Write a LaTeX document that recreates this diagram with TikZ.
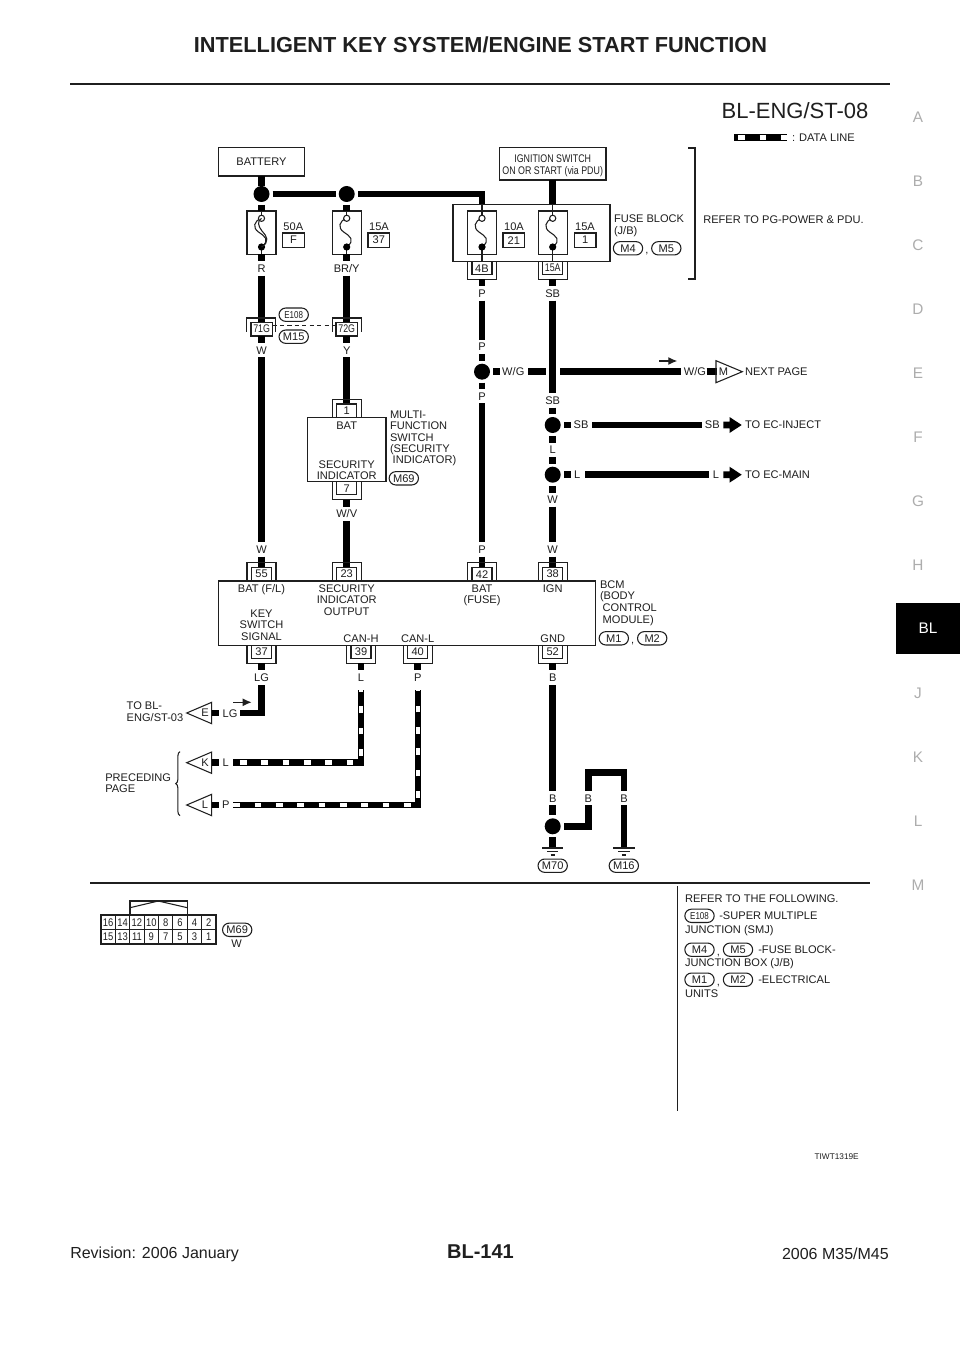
\documentclass[tikz,border=0pt]{standalone}
\usepackage{fontspec}
\usepackage{graphicx}
\setmainfont{Liberation Sans}
\usetikzlibrary{shapes.misc,arrows.meta,decorations.pathreplacing}
\definecolor{ink}{gray}{0.12}
\definecolor{side}{gray}{0.68}
\tikzset{
  txt/.style={inner sep=0pt,outer sep=0pt,text=ink,font=\fontsize{8.3}{9}\selectfont,text height=5.9pt,text depth=0pt},
  wire/.style={line width=5.2pt,draw=black,line cap=butt},
  thinl/.style={line width=0.8pt,draw=ink},
  boxl/.style={draw=ink,line width=0.8pt,inner sep=0pt,outer sep=0pt,fill=white},
  ovalb/.style={rounded rectangle,draw=ink,line width=0.8pt,inner sep=0pt,minimum width=22pt,minimum height=10pt,text=ink,font=\fontsize{8.3}{9}\selectfont},
  dot/.style={circle,fill=black,inner sep=0pt,minimum size=12pt},
  dwhite/.style={line width=3.6pt,draw=white,line cap=butt},
}
\newcounter{tn}
\newcommand\lb[4][]{\stepcounter{tn}\node[txt,#1] (t\thetn) at (#2,#3) {#4};}
\newcommand\wre[5]{\coordinate (#1a) at (#2,#3);\coordinate (#1b) at (#4,#5);\draw[wire] (#1a) -- (#1b);}
% name x1 y1 x2 y2 text
\newcommand\bx[6]{\node[boxl,minimum width={((#4)-(#2))*0.75pt},minimum height={((#5)-(#3))*0.75pt},align=center,text=ink,font=\fontsize{8.3}{9}\selectfont] (#1) at ({((#2)+(#4))/2},{((#3)+(#5))/2}) {#6};}
\newcommand\ovl[4]{\node[ovalb] (#1) at (#2,#3) {#4};}
\newcommand\jn[3]{\node[dot] (#1) at (#2,#3) {};}
% fuse: name cx top-line-start bottom-line-end
\newcommand\fuse[4]{%
  \bx{#1}{#2-14.5}{211}{#2+14.5}{254.3}{}
  \coordinate (#1o) at (#2,218.3); \coordinate (#1c) at (#2,247);
  \coordinate (#1t) at (#2,#3); \coordinate (#1e) at (#2,#4);
  \draw[thinl] (#1t) -- (#1o);
  \draw[thinl] (#1c) -- (#1e);
  \draw[thinl] (#1o) .. controls (#2-8,221) and (#2-9,228) .. (#2-3,232) .. controls (#2+3,236) and (#2+9,240) .. (#1c);
  \draw[thinl,fill=white] (#1o) circle[radius=3.1];
  \fill[black] (#1c) circle[radius=3.6];
}
% connector above a box: name cx ybox text
\newcommand\cont[4]{%
  \bx{#1}{#2-10}{#3-13.7}{#2+10}{#3}{#4}
  \draw[thinl] (#2-14.5,#3) -- (#2-14.5,#3-18.3) -- (#2+14.5,#3-18.3) -- (#2+14.5,#3);
}
% connector below a box
\newcommand\conb[4]{%
  \bx{#1}{#2-10}{#3}{#2+10}{#3+13}{#4}
  \draw[thinl] (#2-14.5,#3) -- (#2-14.5,#3+18) -- (#2+14.5,#3+18) -- (#2+14.5,#3);
}
% left-pointing flag: name ycentre letter
\newcommand\flagl[3]{%
  \coordinate (#1tip) at (186.7,#2);
  \draw[thinl,fill=white] (#1tip) -- (211.7,#2-10.7) -- (211.7,#2+10.7) -- cycle;
  \lb{205}{#2}{#3}
  \wre{#1s}{212}{#2}{219.3}{#2}
}
\newcommand\grd[1]{%
  \draw[ink,line width=1pt] (#1-10.7,848) -- (#1+10.7,848);
  \draw[ink,line width=1pt] (#1-5.7,851.7) -- (#1+5.7,851.7);
  \draw[ink,line width=1pt] (#1-2.2,855) -- (#1+2.2,855);
}
\newcommand\barrow[1]{\fill[black] (723.3,#1-3.4) -- (729.5,#1-3.4) -- (729.5,#1-8) -- (741.7,#1) -- (729.5,#1+8) -- (729.5,#1+3.4) -- (723.3,#1+3.4) -- cycle;}
\newcommand\narrow[3]{\draw[ink,line width=1pt,-{Latex[length=6.75pt,width=6pt]}] (#1,#3) -- (#2,#3);}
\begin{document}
\begin{tikzpicture}[x=0.75pt,y=-0.75pt]
\useasboundingbox (0,0) rectangle (960,1358);
\fill[white] (0,0) rectangle (960,1358);
% page header
\node[inner sep=0pt,font=\bfseries\fontsize{16.3}{18}\selectfont,text=ink] (title) at (480.5,45) {INTELLIGENT KEY SYSTEM/ENGINE START FUNCTION};
\coordinate (hl) at (70,84); \coordinate (hr) at (890,84);
\draw[ink,line width=2.2pt] (hl) -- (hr);
\node[inner sep=0pt,font=\fontsize{16.5}{19}\selectfont,text=ink] (dgid) at (795,111) {BL-ENG/ST-08};
% side tabs
\foreach \l/\yy in {A/117,B/181,C/245,D/309,E/373,F/437,G/501,H/565,J/693,K/757,L/821,M/885}{
  \node[inner sep=0pt,font=\fontsize{11.5}{13}\selectfont,text=side] (side\l) at (918,\yy) {\l};}
\node[fill=black,inner sep=0pt,minimum width=48pt,minimum height=38.2pt,text=white,font=\fontsize{11.5}{13}\selectfont] (tabBL) at (928,628.5) {BL};
% legend
\coordinate (lega) at (734,137.3); \coordinate (legb) at (787.3,137.3);
\draw[wire] (lega) -- (legb);
\draw[dwhite,dash pattern=on 5.1pt off 10.9pt,dash phase=12.8pt] (lega) -- (legb);
\lb[anchor=west]{792}{137.5}{: DATA LINE}
% battery & ignition
\bx{batt}{218.7}{147.7}{304.3}{176}{BATTERY}
\bx{ign}{499.3}{147.7}{606}{180}{}
\lb{552.7}{159}{\scalebox{.8}[1]{IGNITION SWITCH}}
\lb{552.7}{170.7}{\scalebox{.8}[1]{ON OR START (via PDU)}}
\jn{j1}{261.5}{194}{}
\jn{j2}{346.7}{194}{}
\draw[wire] (batt.south -| j1) -- (j1);
\coordinate (h1a) at (272.7,194); \coordinate (h1b) at (336,194);
\draw[wire] (h1a) -- (h1b);
\node[boxl,minimum width={157*0.75pt},minimum height={57.4*0.75pt}] (fb) at (531.5,233) {};
\coordinate (h2a) at (358,194); \coordinate (h2c) at (482,194);
\coordinate (h2d) at (482,204.3);
\draw[wire,line join=miter] (h2a) -- (h2c) -- (h2d);
\coordinate (iga) at (552.7,180); \coordinate (igb) at (552.7,204.3);
\draw[wire] (iga) -- (igb);
% fuses
\fuse{f1}{261.5}{211}{254.3}
\draw[thinl] (f1o) .. controls (257,221) and (258,226) .. (262,231) .. controls (267,236) and (270,242) .. (f1c);
\fuse{f2}{346.7}{211}{254.3}
\fuse{f3}{482}{204.3}{261.7}
\fuse{f4}{552.7}{204.3}{261.7}
\wre{s1}{261.5}{205}{261.5}{211}
\wre{s2}{346.7}{205}{346.7}{211}
\wre{s3}{261.5}{254.3}{261.5}{261}
\wre{s4}{346.7}{254.3}{346.7}{261}
\lb{293.3}{226.7}{50A}\bx{r1}{282.7}{233}{304.3}{247.3}{F}
\lb{379}{226.7}{15A}\bx{r2}{368}{233}{389.7}{247.3}{37}
\lb{514}{226.7}{10A}\bx{r3}{503}{233}{524.7}{247.3}{21}
\lb{585}{226.7}{15A}\bx{r4}{574.3}{233}{596}{247.3}{1}
\lb[anchor=west]{614}{219}{FUSE BLOCK}
\lb[anchor=west]{614}{231}{(J/B)}
\ovl{m4a}{628}{248.3}{M4}\lb{647}{250}{,}\ovl{m5a}{666.3}{248.3}{M5}
\coordinate (ba) at (688.3,148); \coordinate (bb) at (695,148); \coordinate (bc) at (695,279); \coordinate (bd) at (688.3,279);
\draw[ink,line width=0.9pt] (ba) -- (bb) -- (bc) -- (bd);
\lb[anchor=west]{703.3}{219.3}{REFER TO PG-POWER \& PDU.}
\conb{c4b}{482}{261.7}{4B}
\conb{c15a}{552.7}{261.7}{\scalebox{.8}[1]{15A}}
\wre{s4b}{482}{279.5}{482}{286}
\wre{s15a}{552.7}{279.5}{552.7}{286}
\lb{261.5}{269}{R}\lb{346.7}{269}{BR/Y}
\lb{482}{293.5}{P}\lb{552.7}{293.5}{SB}
\wre{w1}{261.5}{275.7}{261.5}{322}
\wre{w2}{346.7}{275.7}{346.7}{322}
% 71G 72G
\bx{c71}{251}{322.3}{272.3}{336}{\scalebox{.8}[1]{71G}}
\bx{c72}{336}{322.3}{357.4}{336}{\scalebox{.8}[1]{72G}}
\draw[thinl] (246.7,331.7) -- (246.7,318) -- (275.7,318) -- (275.7,331.7);
\draw[thinl] (332.2,331.7) -- (332.2,318) -- (361.2,318) -- (361.2,331.7);
\wre{s5}{261.5}{336}{261.5}{343.3}
\wre{s6}{346.7}{336}{346.7}{343.3}
\draw[ink,line width=0.9pt,dash pattern=on 3.2pt off 2.4pt] (c71.east |- 0,325.7) -- (c72.west |- 0,325.7);
\ovl{e108a}{293.7}{314.7}{\scalebox{.8}[1]{\fontsize{7.5}{9}\selectfont E108}}
\ovl{m15}{293.7}{336.7}{M15}
\lb{261.5}{350.7}{W}\lb{346.7}{350.7}{Y}
\wre{w3}{261.5}{357.3}{261.5}{541.7}
\wre{w4}{346.7}{357.3}{346.7}{405}
% multi-function switch
\bx{mfs}{307.7}{417.7}{386}{481.7}{}
\cont{c1}{346.7}{417.7}{1}
\conb{c7}{346.7}{481.7}{7}
\lb{346.7}{425.7}{BAT}\lb{346.7}{464.7}{SECURITY}\lb{346.7}{475.7}{INDICATOR}
\lb[anchor=west]{390}{414.3}{MULTI-}\lb[anchor=west]{390}{426}{FUNCTION}\lb[anchor=west]{390}{437.3}{SWITCH}
\lb[anchor=west]{390}{448.7}{(SECURITY}\lb[anchor=west]{392.7}{460}{INDICATOR)}
\ovl{m69a}{403.8}{478.3}{M69}
\wre{s7}{346.7}{499.7}{346.7}{506.7}
\lb{346.7}{514}{W/V}
\wre{w5}{346.7}{521}{346.7}{567}
% P column
\wre{w6}{482}{300.7}{482}{340}
\lb{482}{346.7}{P}
\jn{j3}{482}{371.7}{}
\wre{s8}{482}{354}{482}{360.7}
\wre{s9}{482}{382.7}{482}{389.3}
\lb{482}{396.7}{P}
\wre{w7}{482}{403.3}{482}{541.7}
% W/G branch
\wre{s10}{493.3}{371.7}{500}{371.7}
\lb{513.3}{371.7}{W/G}
\wre{w8}{528.3}{371.7}{545.7}{371.7}
\wre{w9}{560}{371.7}{680.7}{371.7}
\lb{695}{371.7}{W/G}
\wre{s11}{706.7}{371.7}{717}{371.7}
\coordinate (mtip) at (742.3,371.7);
\draw[thinl] (716,360.7) -- (mtip) -- (716,382.7) -- cycle;
\lb{723.5}{371.7}{M}
\narrow{659}{677.3}{361}
\lb[anchor=west]{745}{371.7}{NEXT PAGE}
% SB column
\wre{w10}{552.7}{300.7}{552.7}{393.3}
\lb{552.7}{400.7}{SB}
\wre{s12}{552.7}{407.7}{552.7}{414}
\jn{j4}{552.7}{425}{}
\wre{s13}{552.7}{436}{552.7}{442.7}
\lb{552.7}{450}{L}
\wre{s14}{552.7}{457.3}{552.7}{464}
\jn{j5}{552.7}{474.7}{}
\wre{s15}{552.7}{486}{552.7}{492.7}
\lb{552.7}{500}{W}
\wre{w11}{552.7}{506.7}{552.7}{541.7}
\wre{s16}{564}{425}{570.7}{425}
\lb{581}{425}{SB}
\wre{w12}{592}{425}{701.7}{425}
\lb{712.3}{425}{SB}
\barrow{425}
\lb[anchor=west]{745}{425}{TO EC-INJECT}
\wre{s17}{564}{474.7}{570.7}{474.7}
\lb{577.3}{474.7}{L}
\wre{w13}{585}{474.7}{709.3}{474.7}
\lb{716}{474.7}{L}
\barrow{474.7}
\lb[anchor=west]{745}{474.7}{TO EC-MAIN}
% into BCM
\lb{261.5}{549.3}{W}\lb{482}{549.3}{P}\lb{552.7}{549.3}{W}
\wre{s18}{261.5}{556.7}{261.5}{567}
\wre{s19}{482}{556.7}{482}{567}
\wre{s20}{552.7}{556.7}{552.7}{567}
% BCM
\bx{bcm}{218.7}{581}{595.7}{645.3}{}
\cont{c55}{261.5}{581}{55}
\cont{c23}{346.7}{581}{23}
\cont{c42}{482}{581}{42}
\cont{c38}{552.7}{581}{38}
\conb{c37}{261.5}{645.3}{37}
\conb{c39}{361}{645.3}{39}
\conb{c40}{417.7}{645.3}{40}
\conb{c52}{552.7}{645.3}{52}
\lb{261.5}{589}{BAT (F/L)}
\lb{346.7}{589}{SECURITY}\lb{346.7}{600}{INDICATOR}\lb{346.7}{611.7}{OUTPUT}
\lb{482}{589}{BAT}\lb{482}{600}{(FUSE)}
\lb{552.7}{589}{IGN}
\lb{261.5}{613.3}{KEY}\lb{261.5}{625}{SWITCH}\lb{261.5}{636.3}{SIGNAL}
\lb{361}{638.3}{CAN-H}\lb{417.7}{638.3}{CAN-L}\lb{552.7}{638.3}{GND}
\lb[anchor=west]{600}{585}{BCM}\lb[anchor=west]{600}{596}{(BODY}
\lb[anchor=west]{602.7}{607.7}{CONTROL}\lb[anchor=west]{602.7}{619.3}{MODULE)}
\ovl{m1a}{613.8}{638.3}{M1}\lb{632.7}{640}{,}\ovl{m2a}{652.2}{638.3}{M2}
% below BCM
\wre{s21}{261.5}{663.3}{261.5}{670}
\wre{s22}{361}{663.3}{361}{670}
\wre{s23}{417.7}{663.3}{417.7}{670}
\wre{s24}{552.7}{663.3}{552.7}{670}
\lb{261.5}{677.3}{LG}\lb{361}{677.3}{L}\lb{417.7}{677.3}{P}\lb{552.7}{677.3}{B}
% LG
\coordinate (lga) at (261.3,685); \coordinate (lgc) at (261.3,713); \coordinate (lgb) at (240,713);
\draw[wire,line join=miter] (lga) -- (lgc) -- (lgb);
\lb{230}{713.3}{LG}
\flagl{fe}{713}{E}
\narrow{233.3}{251.7}{702.3}
\lb[anchor=west]{126.7}{705.7}{TO BL-}\lb[anchor=west]{126.7}{717.7}{ENG/ST-03}
% data lines
\coordinate (kb) at (233.3,762.7); \coordinate (kc) at (361,762.7); \coordinate (ka) at (361,690);
\draw[wire,line join=miter] (kb) -- (kc) -- (ka);
\draw[dwhite,dash pattern=on 5.1pt off 10.9pt,dash phase=11pt] (kb) -- (kc) -- (ka);
\lb{225.7}{763}{L}
\flagl{fk}{762.7}{K}
\coordinate (lb) at (233.3,805); \coordinate (lc) at (418,805); \coordinate (la) at (418,690);
\draw[wire,line join=miter] (lb) -- (lc) -- (la);
\draw[dwhite,dash pattern=on 5.1pt off 10.9pt,dash phase=0pt] (lb) -- (lc) -- (la);
\lb{225.7}{805}{P}
\flagl{fl}{805}{L}
\coordinate (bra) at (180,815.7); \coordinate (brb) at (180,751.7);
\draw[ink,line width=0.8pt,decorate,decoration={brace,amplitude=3.2pt}] (bra) -- (brb);
\lb[anchor=west]{105.3}{777.3}{PRECEDING}\lb[anchor=west]{105.3}{788.3}{PAGE}
% ground side
\wre{w14}{552.7}{685}{552.7}{790.7}
\lb{552.7}{798.3}{B}
\wre{w15}{552.7}{805}{552.7}{815}
\jn{j6}{552.7}{826.3}{}
\wre{s25}{552.7}{837.3}{552.7}{847.5}
\coordinate (ga) at (564.3,826.3); \coordinate (gc) at (588.3,826.3); \coordinate (gb) at (588.3,805);
\draw[wire,line join=miter] (ga) -- (gc) -- (gb);
\lb{588.3}{798.3}{B}
\coordinate (ha) at (588.3,790.7); \coordinate (hc) at (588.3,772.7); \coordinate (hd) at (624,772.7); \coordinate (hb) at (624,790.7);
\draw[wire,line join=miter] (ha) -- (hc) -- (hd) -- (hb);
\lb{624}{798.3}{B}
\wre{w16}{624}{805}{624}{847.5}
\grd{552.7}
\grd{624}
\ovl{m70}{552.7}{865.7}{M70}
\ovl{m16}{623.8}{865.7}{M16}
% separator
\coordinate (sl) at (90,883.3); \coordinate (sr) at (870,883.3);
\draw[ink,line width=1.5pt] (sl) -- (sr);
% connector face
\foreach \n/\c in {16/0,14/1,12/2,10/3,8/4,6/5,4/6,2/7}{
  \bx{ct\n}{101+14.375*\c}{915}{101+14.375*\c+14.375}{929.4}{\scalebox{.85}[1]{\n}}}
\foreach \n/\c in {15/0,13/1,11/2,9/3,7/4,5/5,3/6,1/7}{
  \bx{cb\n}{101+14.375*\c}{929.4}{101+14.375*\c+14.375}{944}{\scalebox{.85}[1]{\n}}}
\draw[thinl] (130,915) -- (130,901) -- (187.3,901) -- (187.3,915);
\draw[thinl] (130,907.7) -- (158.3,901) -- (187.3,907.7);
\ovl{m69b}{237.2}{929.8}{M69}
\lb{236.7}{943.5}{W}
% refer panel
\coordinate (va) at (677.3,886); \coordinate (vb) at (677.3,1111);
\draw[ink,line width=1pt] (va) -- (vb);
\lb[anchor=west]{685}{898.3}{REFER TO THE FOLLOWING.}
\ovl{e108b}{699.5}{915.8}{\scalebox{.8}[1]{\fontsize{7.5}{9}\selectfont E108}}
\lb[anchor=west]{719.3}{916}{-SUPER MULTIPLE}
\lb[anchor=west]{685}{930}{JUNCTION (SMJ)}
\ovl{m4b}{699.5}{949.7}{M4}\lb{718.5}{951.5}{,}\ovl{m5b}{738}{949.7}{M5}
\lb[anchor=west]{758.3}{949.3}{-FUSE BLOCK-}
\lb[anchor=west]{685}{962.7}{JUNCTION BOX (J/B)}
\ovl{m1b}{699.5}{979.7}{M1}\lb{718.5}{981.5}{,}\ovl{m2b}{738}{979.7}{M2}
\lb[anchor=west]{758.3}{979.3}{-ELECTRICAL}
\lb[anchor=west]{685}{993.3}{UNITS}
\node[inner sep=0pt,anchor=east,font=\fontsize{6.2}{7}\selectfont,text=ink] (code) at (859,1157) {TIWT1319E};
% footer
\node[inner sep=0pt,font=\bfseries\fontsize{15}{17}\selectfont,text=ink] (pg) at (480.5,1252) {BL-141};
\node[inner sep=0pt,anchor=west,font=\fontsize{12}{14}\selectfont,text=ink] (rev) at (70,1254) {Revision: 2006 January};
\node[inner sep=0pt,anchor=east,font=\fontsize{12}{14}\selectfont,text=ink] (mod) at (889,1254) {2006 M35/M45};
\end{tikzpicture}
\end{document}
